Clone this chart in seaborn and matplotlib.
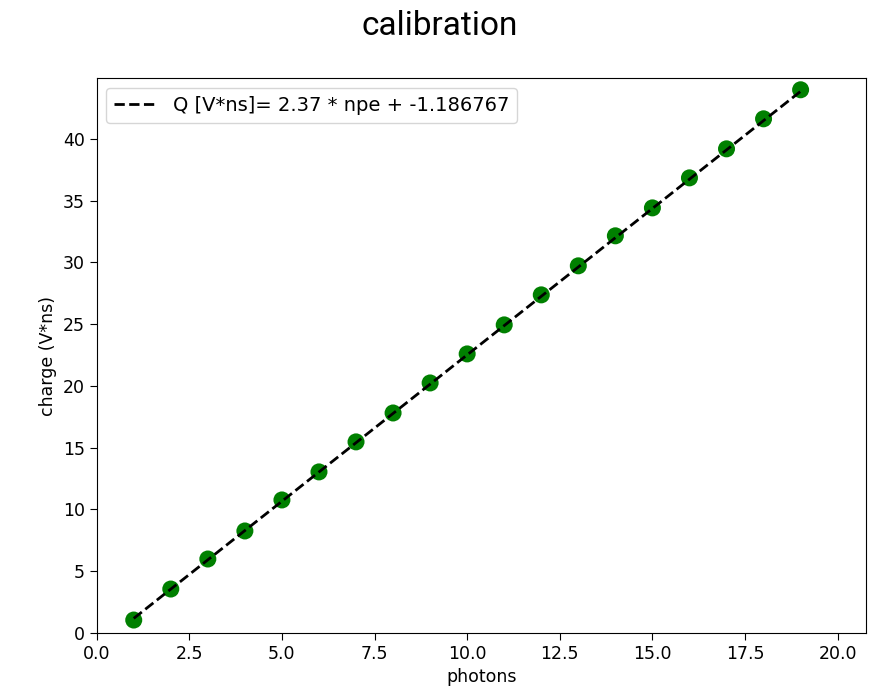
import numpy as np
import pandas as pd
import matplotlib
matplotlib.use("Agg")
import matplotlib.pyplot as plt
import seaborn as sns

# photon number vs measured charge
photons = [1, 2, 3, 4, 5, 6, 7, 8, 9, 10, 11, 12, 13, 14, 15, 16, 17, 18, 19]
charge = [1.05, 3.56, 5.99, 8.26, 10.77, 13.04, 15.47, 17.81, 20.24, 22.59,
          24.94, 27.37, 29.72, 32.15, 34.41, 36.84, 39.19, 41.62, 43.97]

# fit parameters shown in the legend
slope = 2.37
intercept = -1.186767

df = pd.DataFrame({"photons": photons, "charge": charge})
df["fit"] = slope * df["photons"] + intercept

fig = plt.figure(figsize=(8.79, 6.99), dpi=100)
ax = fig.add_axes([0.110, 0.0944, 0.875, 0.7936])

sns.scatterplot(data=df, x="photons", y="charge", color="green", s=150,
                edgecolor="none", ax=ax, zorder=2)
sns.lineplot(data=df, x="photons", y="fit", color="black", linestyle="--",
             linewidth=2.0, ax=ax, zorder=3,
             label="Q [V*ns]= %.2f * npe + %f" % (slope, intercept))

ax.set_xlim(0, 20.76)
ax.set_ylim(0, 44.9)
ax.set_xlabel("photons", fontsize=12.5)
ax.set_ylabel("charge (V*ns)", fontsize=12.5)
ax.tick_params(labelsize=12.5, length=5)
ax.legend(loc="upper left", fontsize=14, handlelength=2.2)

fig.suptitle("calibration", fontsize=24, family="Roboto", y=0.985)

fig.savefig("out.png", dpi=100)
